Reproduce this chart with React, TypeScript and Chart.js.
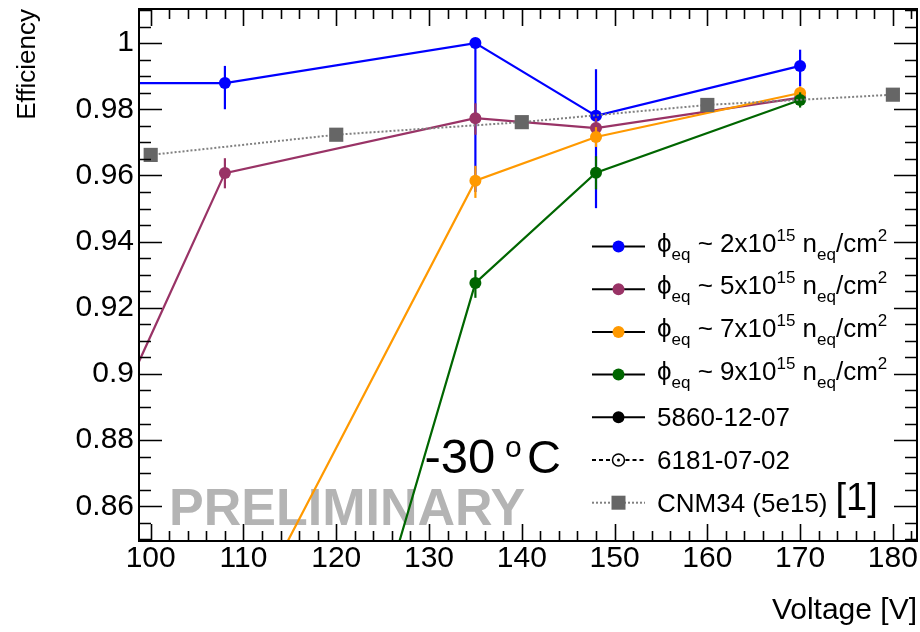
import React, { useEffect, useRef } from 'react';
import { Chart, registerables } from 'chart.js';

Chart.register(...registerables);

const FAMILY = "'Liberation Sans', Arial, Helvetica, sans-serif";

// ---- data (voltage [V], efficiency, asymmetric errors) ----
const phi2Voltage = [90, 108, 135, 148, 170];
const phi2Eff = [0.9879, 0.9879, 1.0, 0.978, 0.9931];
const phi2ErrUp = [0, 0.0052, 0, 0.0141, 0.0049];
const phi2ErrDown = [0, 0.0079, 0.045, 0.0279, 0.0062];

const phi5Voltage = [90, 108, 135, 148, 170];
const phi5Eff = [0.85, 0.9607, 0.9773, 0.9743, 0.9835];
const phi5ErrUp = [0, 0.0045, 0.0045, 0.003, 0.002];
const phi5ErrDown = [0, 0.0046, 0.005, 0.003, 0.002];

const phi7Voltage = [108, 135, 148, 170];
const phi7Eff = [0.813, 0.9584, 0.9716, 0.9849];
const phi7ErrUp = [0, 0.0045, 0.003, 0.002];
const phi7ErrDown = [0, 0.0052, 0.003, 0.002];

const phi9Voltage = [108, 135, 148, 170];
const phi9Eff = [0.67, 0.9275, 0.9608, 0.9828];
const phi9ErrUp = [0, 0.0039, 0.005, 0.0023];
const phi9ErrDown = [0, 0.0045, 0.005, 0.0023];

const cnmVoltage = [100, 120, 140, 160, 180];
const cnmEff = [0.9662, 0.9723, 0.9761, 0.9813, 0.9844];

const fluenceLabels = ['2', '5', '7', '9'];
const sensorLabels = ['5860-12-07', '6181-07-02'];
const cnmLabel = 'CNM34 (5e15)';
const refLabel = '[1]';
const tempLabel = ['-30', 'o', 'C'];
const prelimLabel = 'PRELIMINARY';

const xMin = 98.74;
const xMax = 182.6;
const yMin = 0.8495;
const yMax = 1.0103;

const COLORS = ['#0000ff', '#993366', '#ff9900', '#006600'];
const CNM_COLOR = '#666666';

const pts = (xs: number[], ys: number[]) => xs.map((x, i) => ({ x, y: ys[i] }));

function makeSeries(label: string, xs: number[], ys: number[], up: number[], dn: number[], color: string, order: number) {
  return {
    label,
    data: pts(xs, ys),
    errUp: up,
    errDown: dn,
    borderColor: color,
    backgroundColor: color,
    borderWidth: 2.2,
    pointRadius: 6,
    pointBorderWidth: 0,
    pointBackgroundColor: color,
    tension: 0,
    order,
  };
}

const errorBarPlugin = {
  id: 'errorBars',
  beforeDatasetDraw(chart: any, args: any) {
    const ds = chart.data.datasets[args.index];
    if (!ds.errUp) return;
    const { ctx, chartArea } = chart;
    const xs = chart.scales.x;
    const ys = chart.scales.y;
    ctx.save();
    ctx.beginPath();
    ctx.rect(chartArea.left, chartArea.top, chartArea.right - chartArea.left, chartArea.bottom - chartArea.top);
    ctx.clip();
    ctx.strokeStyle = ds.borderColor;
    ctx.lineWidth = 2.2;
    ds.data.forEach((p: any, i: number) => {
      const up = ds.errUp[i] || 0;
      const dn = ds.errDown[i] || 0;
      if (!up && !dn) return;
      const px = xs.getPixelForValue(p.x);
      ctx.beginPath();
      ctx.moveTo(px, ys.getPixelForValue(p.y + up));
      ctx.lineTo(px, ys.getPixelForValue(p.y - dn));
      ctx.stroke();
    });
    ctx.restore();
  },
};

const annotationPlugin = {
  id: 'annotations',
  beforeDatasetsDraw(chart: any) {
    const { ctx, chartArea } = chart;
    ctx.save();
    ctx.textBaseline = 'alphabetic';
    ctx.textAlign = 'left';
    // PRELIMINARY
    ctx.fillStyle = '#b4b4b4';
    ctx.font = `bold 52px ${FAMILY}`;
    ctx.fillText(prelimLabel, chartArea.left + 30, chartArea.bottom - 16);
    // -30 oC
    ctx.fillStyle = '#000';
    let x = chartArea.left + 285.5;
    const base = chartArea.bottom - 68;
    ctx.font = `49px ${FAMILY}`;
    ctx.fillText(tempLabel[0], x, base);
    x += ctx.measureText(tempLabel[0]).width + 9.7;
    ctx.font = `30px ${FAMILY}`;
    ctx.fillText(tempLabel[1], x, base - 16);
    x += ctx.measureText(tempLabel[1]).width + 5.3;
    ctx.font = `47px ${FAMILY}`;
    ctx.fillText(tempLabel[2], x, base);
    ctx.restore();
  },
};

const framePlugin = {
  id: 'rootFrame',
  afterDatasetsDraw(chart: any) {
    const { ctx, chartArea } = chart;
    const { left, right, top, bottom } = chartArea;
    const xs = chart.scales.x;
    const ys = chart.scales.y;
    ctx.save();
    ctx.strokeStyle = '#000';
    ctx.lineWidth = 1.6;
    ctx.beginPath();
    for (let k = Math.ceil(xMin / 2); k * 2 <= xMax; k++) {
      const v = k * 2;
      const px = Math.round(xs.getPixelForValue(v)) + 0.5;
      const len = v % 10 === 0 ? 17 : 10;
      ctx.moveTo(px, bottom);
      ctx.lineTo(px, bottom - len);
      ctx.moveTo(px, top);
      ctx.lineTo(px, top + len);
    }
    for (let k = Math.ceil(yMin * 200 - 1e-9); k / 200 <= yMax; k++) {
      const py = Math.round(ys.getPixelForValue(k / 200)) + 0.5;
      const len = k % 4 === 0 ? 23 : 12;
      ctx.moveTo(left, py);
      ctx.lineTo(left + len, py);
      ctx.moveTo(right, py);
      ctx.lineTo(right - len, py);
    }
    ctx.stroke();
    ctx.lineWidth = 2;
    ctx.strokeRect(left, top, right - left, bottom - top);
    ctx.restore();
  },
};

type Part = { t: string; size: number; dy: number };

function drawParts(ctx: CanvasRenderingContext2D, x: number, y: number, parts: Part[]) {
  for (const p of parts) {
    ctx.font = `${p.size}px ${FAMILY}`;
    ctx.fillText(p.t, x, y + p.dy);
    x += ctx.measureText(p.t).width;
  }
  return x;
}

const legendPlugin = {
  id: 'rootLegend',
  afterDraw(chart: any) {
    const { ctx } = chart;
    const x0 = 592;
    const x1 = 645;
    const xm = (x0 + x1) / 2;
    const tx = 657;
    const rowY = (i: number) => 246.5 + i * 42.7;
    ctx.save();
    ctx.textAlign = 'left';
    ctx.textBaseline = 'alphabetic';
    ctx.fillStyle = '#000';
    fluenceLabels.forEach((f, i) => {
      const y = rowY(i);
      ctx.strokeStyle = '#000';
      ctx.lineWidth = 2;
      ctx.setLineDash([]);
      ctx.beginPath();
      ctx.moveTo(x0, y);
      ctx.lineTo(x1, y);
      ctx.stroke();
      ctx.fillStyle = COLORS[i];
      ctx.beginPath();
      ctx.arc(xm, y, 6, 0, Math.PI * 2);
      ctx.fill();
      ctx.fillStyle = '#000';
      drawParts(ctx, tx, y + 5, [
        { t: '\u03D5', size: 26, dy: 0 },
        { t: 'eq', size: 17, dy: 8 },
        { t: ` ~ ${f}x10`, size: 26, dy: 0 },
        { t: '15', size: 17, dy: -11 },
        { t: ' n', size: 26, dy: 0 },
        { t: 'eq', size: 17, dy: 8 },
        { t: '/cm', size: 26, dy: 0 },
        { t: '2', size: 17, dy: -11 },
      ]);
    });
    let y = rowY(4);
    ctx.strokeStyle = '#000';
    ctx.lineWidth = 2;
    ctx.beginPath();
    ctx.moveTo(x0, y);
    ctx.lineTo(x1, y);
    ctx.stroke();
    ctx.fillStyle = '#000';
    ctx.beginPath();
    ctx.arc(xm, y, 6, 0, Math.PI * 2);
    ctx.fill();
    ctx.font = `26px ${FAMILY}`;
    ctx.fillText(sensorLabels[0], tx, y + 9);
    y = rowY(5);
    ctx.setLineDash([4, 3]);
    ctx.beginPath();
    ctx.moveTo(x0, y);
    ctx.lineTo(xm - 7, y);
    ctx.moveTo(xm + 7, y);
    ctx.lineTo(x1, y);
    ctx.stroke();
    ctx.setLineDash([]);
    ctx.fillStyle = '#fff';
    ctx.lineWidth = 1.5;
    ctx.beginPath();
    ctx.arc(xm, y, 6, 0, Math.PI * 2);
    ctx.fill();
    ctx.stroke();
    ctx.fillStyle = '#000';
    ctx.beginPath();
    ctx.arc(xm, y, 1.5, 0, Math.PI * 2);
    ctx.fill();
    ctx.font = `26px ${FAMILY}`;
    ctx.fillText(sensorLabels[1], tx, y + 9);
    y = rowY(6);
    ctx.strokeStyle = '#808080';
    ctx.lineWidth = 2;
    ctx.setLineDash([2, 2]);
    ctx.beginPath();
    ctx.moveTo(x0, y);
    ctx.lineTo(x1, y);
    ctx.stroke();
    ctx.setLineDash([]);
    ctx.fillStyle = CNM_COLOR;
    ctx.fillRect(xm - 7, y - 7, 14, 14);
    ctx.fillStyle = '#000';
    ctx.font = `26px ${FAMILY}`;
    ctx.fillText(cnmLabel, tx, y + 9);
    const w = ctx.measureText(cnmLabel).width;
    ctx.font = `38px ${FAMILY}`;
    ctx.fillText(refLabel, tx + w + 8, y + 7);
    ctx.restore();
  },
};

export default function App() {
  const ref = useRef<HTMLCanvasElement>(null);
  useEffect(() => {
    if (!ref.current) return;
    Chart.defaults.font.family = FAMILY;
    const chart = new Chart(ref.current, {
      type: 'line',
      data: {
        datasets: [
          makeSeries('phi2', phi2Voltage, phi2Eff, phi2ErrUp, phi2ErrDown, COLORS[0], 4),
          makeSeries('phi5', phi5Voltage, phi5Eff, phi5ErrUp, phi5ErrDown, COLORS[1], 3),
          makeSeries('phi7', phi7Voltage, phi7Eff, phi7ErrUp, phi7ErrDown, COLORS[2], 2),
          makeSeries('phi9', phi9Voltage, phi9Eff, phi9ErrUp, phi9ErrDown, COLORS[3], 1),
          {
            label: cnmLabel,
            data: pts(cnmVoltage, cnmEff),
            borderColor: '#808080',
            borderWidth: 2,
            borderDash: [2, 2],
            pointStyle: 'rect',
            pointRadius: 10,
            pointBorderWidth: 0,
            pointBackgroundColor: CNM_COLOR,
            tension: 0,
            order: 0,
          } as any,
        ] as any,
      },
      options: {
        animation: false,
        responsive: false,
        maintainAspectRatio: false,
        events: [],
        layout: { autoPadding: false, padding: { top: 9, right: 3, left: 0, bottom: 0 } },
        plugins: { legend: { display: false }, tooltip: { enabled: false }, title: { display: false } },
        scales: {
          x: {
            type: 'linear',
            min: xMin,
            max: xMax,
            afterFit: (s: any) => {
              s.height = 91;
              s.paddingLeft = 0;
              s.paddingRight = 0;
            },
            grid: { display: false, drawTicks: false },
            border: { display: false },
            ticks: {
              stepSize: 10,
              includeBounds: false,
              autoSkip: false,
              maxRotation: 0,
              padding: 0,
              color: '#000',
              font: { size: 30, family: FAMILY },
              callback: (v: any) => String(Math.round(Number(v))),
            },
            title: {
              display: true,
              text: 'Voltage [V]',
              align: 'end',
              color: '#000',
              font: { size: 30, family: FAMILY },
              padding: { top: 0, bottom: 3 },
            },
          },
          y: {
            type: 'linear',
            min: yMin,
            max: yMax,
            afterFit: (s: any) => {
              s.width = 139;
              s.paddingTop = 0;
              s.paddingBottom = 0;
            },
            grid: { display: false, drawTicks: false },
            border: { display: false },
            ticks: {
              stepSize: 0.02,
              includeBounds: false,
              autoSkip: false,
              padding: 5,
              color: '#000',
              font: { size: 30, family: FAMILY },
              callback: (v: any) => String(Number(Number(v).toFixed(2))),
            },
            title: {
              display: true,
              text: 'Efficiency',
              align: 'end',
              color: '#000',
              font: { size: 26, family: FAMILY },
              padding: { top: 12, bottom: 0 },
            },
          },
        },
      } as any,
      plugins: [annotationPlugin, errorBarPlugin, framePlugin, legendPlugin],
    });
    return () => chart.destroy();
  }, []);
  return (
    <div style={{ position: 'absolute', left: 0, top: 0, width: 920, height: 632, background: '#fff' }}>
      <canvas ref={ref} width={920} height={632} style={{ display: 'block' }} />
    </div>
  );
}
